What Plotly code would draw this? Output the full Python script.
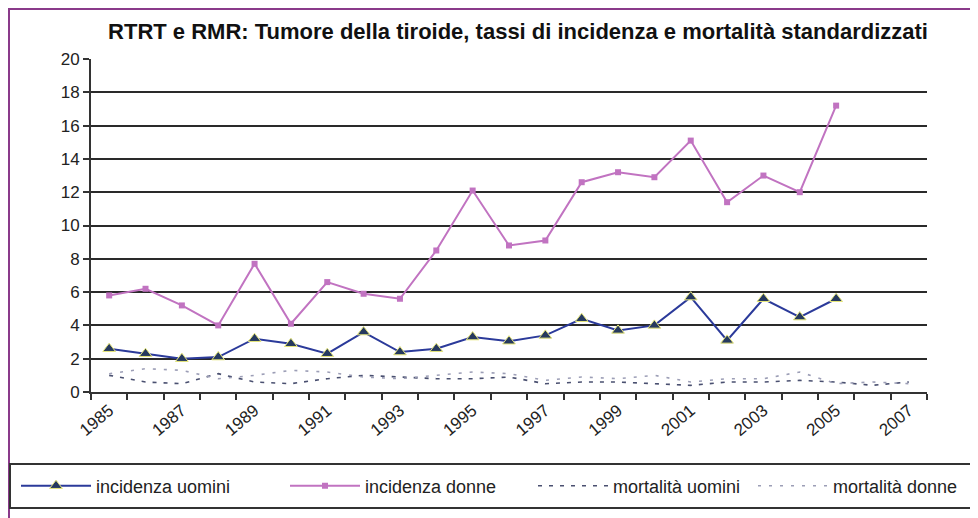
import plotly.graph_objects as go

years = list(range(1985, 2008))
inc_years = list(range(1985, 2006))
incidenza_uomini = [2.6, 2.3, 2.0, 2.1, 3.2, 2.9, 2.3, 3.6, 2.4, 2.6, 3.3, 3.05, 3.4, 4.4, 3.7, 4.0, 5.7, 3.1, 5.6, 4.5, 5.6]
incidenza_donne = [5.8, 6.2, 5.2, 4.0, 7.7, 4.1, 6.6, 5.9, 5.6, 8.5, 12.1, 8.8, 9.1, 12.6, 13.2, 12.9, 15.1, 11.4, 13.0, 12.0, 17.2]
mortalita_uomini = [1.0, 0.6, 0.5, 1.1, 0.6, 0.5, 0.8, 1.0, 0.9, 0.8, 0.8, 0.9, 0.5, 0.6, 0.6, 0.5, 0.4, 0.6, 0.6, 0.7, 0.6, 0.4, 0.6]
mortalita_donne = [1.1, 1.4, 1.3, 0.8, 1.0, 1.3, 1.2, 0.9, 0.8, 1.0, 1.2, 1.1, 0.7, 0.9, 0.8, 1.0, 0.6, 0.8, 0.8, 1.2, 0.5, 0.6, 0.5]
tick_years = list(range(1985, 2008, 2))
y_ticks = list(range(0, 21, 2))

# page body has an 8px margin; figure is sized to fit the window
W, H = 970, 510
L, R, T, B = 83, 51, 51, 126
PW, PH = W - L - R, H - T - B

fig = go.Figure()
fig.add_trace(go.Scatter(x=inc_years, y=incidenza_uomini, name="incidenza uomini", mode="lines+markers",
                         legend="legend",
                         line=dict(color="#2b3a9a", width=2),
                         marker=dict(symbol="triangle-up", size=11, color="#26395f",
                                     line=dict(color="#e6e67a", width=1))))
fig.add_trace(go.Scatter(x=inc_years, y=incidenza_donne, name="incidenza donne", mode="lines+markers",
                         legend="legend2",
                         line=dict(color="#c173c1", width=2),
                         marker=dict(symbol="square", size=6, color="#c173c1")))
fig.add_trace(go.Scatter(x=years, y=mortalita_uomini, name="mortalità uomini", mode="lines",
                         legend="legend3",
                         line=dict(color="#4a5070", width=1.6, dash="4px,7px")))
fig.add_trace(go.Scatter(x=years, y=mortalita_donne, name="mortalità donne", mode="lines",
                         legend="legend4",
                         line=dict(color="#9c9eb6", width=1.6, dash="3px,8px")))

font_main = "Liberation Sans, Arial, sans-serif"


def leg(text_start_page):
    return dict(orientation="h", xref="container", yref="container",
                x=(text_start_page - 8 - 81) / W, y=(H - 478) / H,
                xanchor="left", yanchor="middle", bgcolor="rgba(0,0,0,0)", borderwidth=0,
                font=dict(size=18, family=font_main, color="#222222"), itemwidth=70)


fig.update_layout(
    width=W, height=H,
    margin=dict(l=L, r=R, t=T, b=B),
    paper_bgcolor="white", plot_bgcolor="white",
    font=dict(family=font_main, size=17, color="#222222"),
    title=dict(text="<b>RTRT e RMR: Tumore della tiroide, tassi di incidenza e mortalità standardizzati</b>",
               x=510 / W, xanchor="center", y=1 - 23 / H, yanchor="middle",
               font=dict(family=font_main, size=22, color="#111111")),
    showlegend=True,
    legend=leg(97), legend2=leg(366), legend3=leg(614), legend4=leg(834),
    xaxis=dict(range=[1984.5, 2007.5], tickmode="array", tickvals=tick_years, ticktext=[str(v) for v in tick_years],
               tickangle=-40, ticks="", showgrid=False, zeroline=False,
               showline=True, linecolor="#333333", linewidth=2,
               tickfont=dict(size=17),
               minor=dict(tickmode="array", tickvals=[y + 0.5 for y in range(1984, 2008)], ticks="outside",
                          ticklen=6, tickcolor="#333333", tickwidth=2, showgrid=False)),
    yaxis=dict(range=[0, 20], tickmode="array", tickvals=y_ticks, ticks="outside", ticklen=6,
               tickcolor="#333333", tickwidth=2,
               showgrid=True, gridcolor="#2a2a2a", gridwidth=2, zeroline=False,
               showline=True, linecolor="#333333", linewidth=2, tickfont=dict(size=17)),
    shapes=[
        dict(type="rect", xref="paper", yref="paper",
             x0=(1 - L) / PW, x1=(W - 3 - L) / PW,
             y0=-(B + 20) / PH, y1=1 + (T - 1) / PH,
             line=dict(color="#8a3a8a", width=2), layer="below"),
        dict(type="rect", xref="paper", yref="paper",
             x0=(2 - L) / PW, x1=(966 - L) / PW,
             y0=-(500 - (T + PH)) / PH, y1=-(456 - (T + PH)) / PH,
             line=dict(color="#333333", width=2), layer="below"),
    ],
)

fig.write_html("out.html")
